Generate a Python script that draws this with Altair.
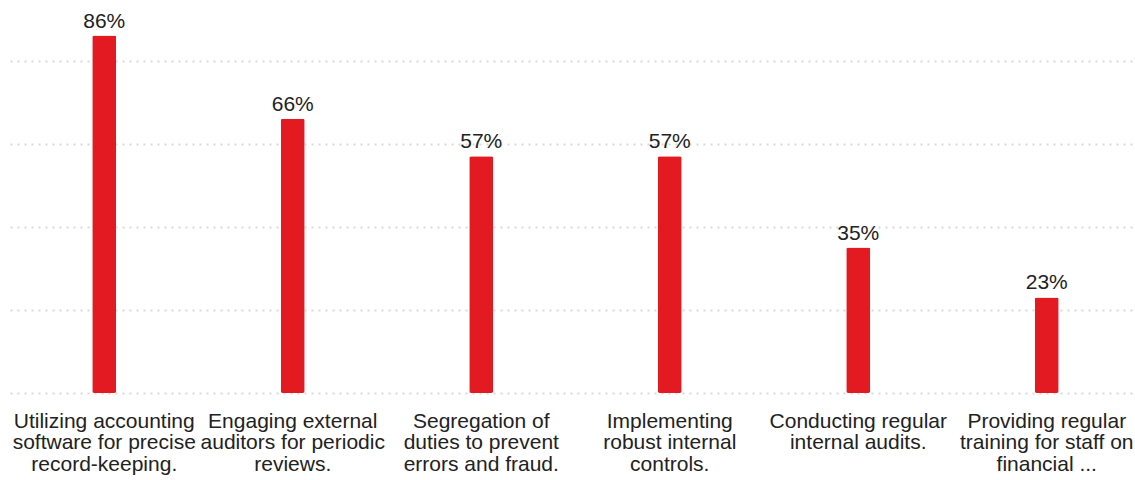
import altair as alt
import pandas as pd

categories = [
    "Utilizing accounting|software for precise|record-keeping.",
    "Engaging external|auditors for periodic|reviews.",
    "Segregation of|duties to prevent|errors and fraud.",
    "Implementing|robust internal|controls.",
    "Conducting regular|internal audits.",
    "Providing regular|training for staff on|financial ...",
]
values = [86, 66, 57, 57, 35, 23]
labels = ["86%", "66%", "57%", "57%", "35%", "23%"]

df = pd.DataFrame({"cat": categories, "val": values, "lab": labels})

x = alt.X(
    "cat:N",
    sort=None,
    title=None,
    scale=alt.Scale(range=[0, 1131], paddingInner=0, paddingOuter=0),
    axis=alt.Axis(
        labelAngle=0,
        labelExpr="split(datum.value, '|')",
        labelFontSize=21,
        labelFont="Liberation Sans",
        labelColor="#222222",
        labelLineHeight=21.5,
        labelPadding=17,
        labelLimit=0,
        ticks=False,
        domain=False,
        grid=False,
    ),
)
y = alt.Y(
    "val:Q",
    title=None,
    scale=alt.Scale(domain=[0, 90], nice=False),
    axis=alt.Axis(
        values=[0, 20, 40, 60, 80],
        labels=False,
        ticks=False,
        domain=False,
        grid=True,
        gridColor="#d9d9d9",
        gridDash=[2, 5],
        gridWidth=2,
    ),
)

bars = alt.Chart(df).mark_bar(size=24, color="#e31a22", cornerRadius=2).encode(x=x, y=y)
text = alt.Chart(df).mark_text(
    baseline="alphabetic", dy=-8, fontSize=21, font="Liberation Sans", color="#222222"
).encode(x=x, y=y, text="lab:N")

chart = (
    alt.layer(bars, text)
    .properties(
        width=1125,
        height=374,
        autosize=alt.AutoSizeParams(type="none"),
        padding={"left": 10, "top": 19, "right": 0, "bottom": 87},
    )
    .configure_view(stroke=None)
)

chart.save("out.html", embed_options={"renderer": "svg", "actions": False})
